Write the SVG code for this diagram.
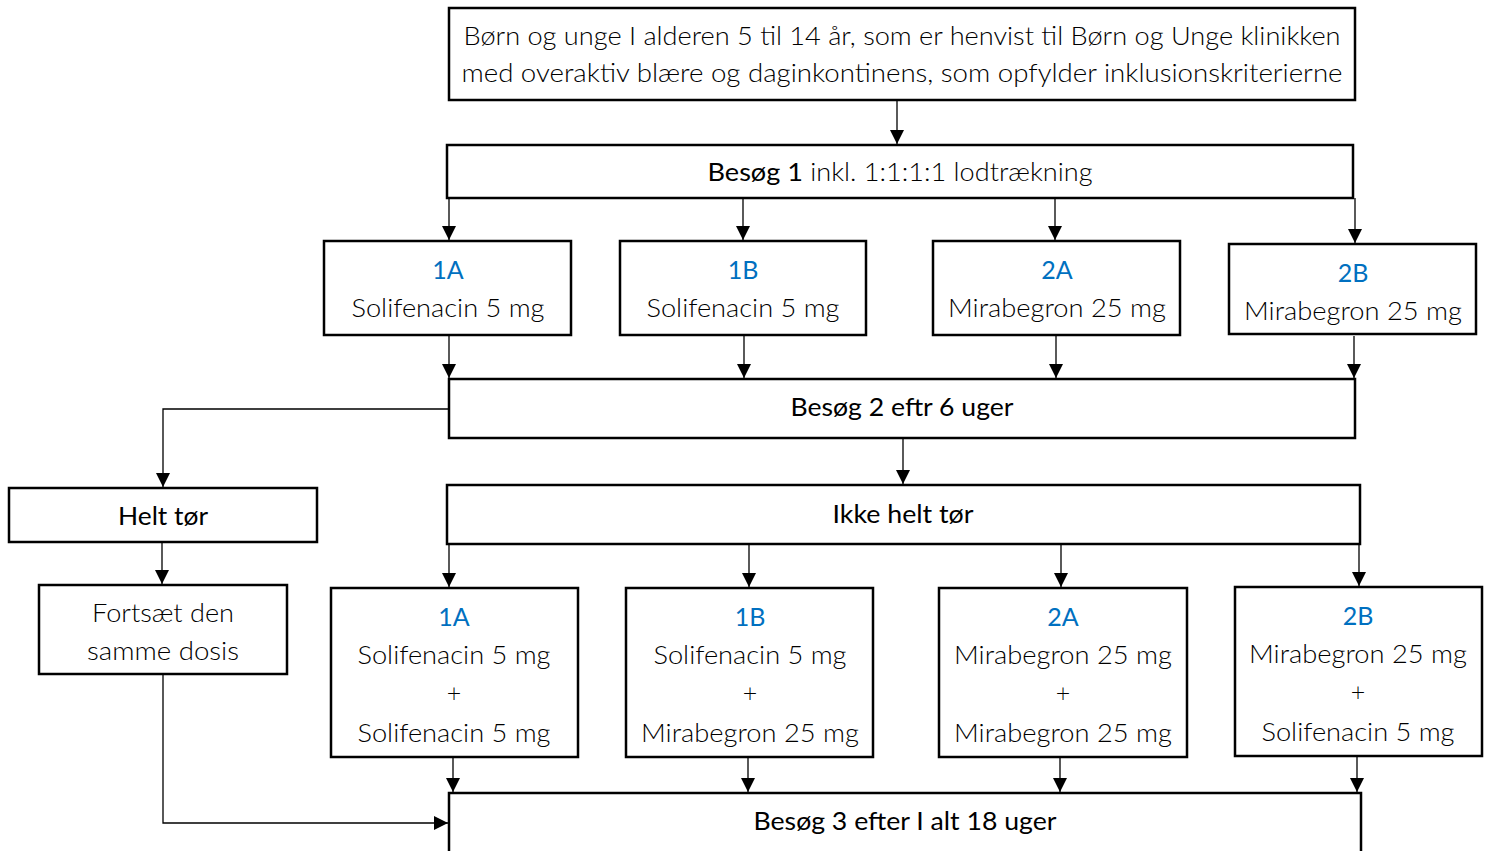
<svg xmlns="http://www.w3.org/2000/svg" width="1488" height="851" viewBox="0 0 1488 851">
<style>
.box{fill:#fff;stroke:#000;stroke-width:2.5}
.c{fill:none;stroke:#000;stroke-width:1.3}
text{font-family:Lato,"Open Sans","Liberation Sans",sans-serif;font-size:25px;font-weight:300;fill:#000;text-anchor:middle}
.b{font-weight:400}
.blue{fill:#0070C0;font-weight:400}
</style>
<defs>
<marker id="a" viewBox="0 0 10 10" refX="10" refY="5" markerWidth="14" markerHeight="14" markerUnits="userSpaceOnUse" orient="auto">
<path d="M0,0 L10,5 L0,10 z" fill="#000"/>
</marker>
</defs>
<rect width="1488" height="851" fill="#fff"/>
<g id="connectors">
<line class="c" x1="897" y1="100" x2="897" y2="144" marker-end="url(#a)"/>
<line class="c" x1="449" y1="198" x2="449" y2="240" marker-end="url(#a)"/>
<line class="c" x1="743" y1="198" x2="743" y2="240" marker-end="url(#a)"/>
<line class="c" x1="1055" y1="198" x2="1055" y2="240" marker-end="url(#a)"/>
<line class="c" x1="1355" y1="198" x2="1355" y2="243" marker-end="url(#a)"/>
<line class="c" x1="449" y1="336" x2="449" y2="378" marker-end="url(#a)"/>
<line class="c" x1="744" y1="336" x2="744" y2="378" marker-end="url(#a)"/>
<line class="c" x1="1056" y1="336" x2="1056" y2="378" marker-end="url(#a)"/>
<line class="c" x1="1354" y1="336" x2="1354" y2="378" marker-end="url(#a)"/>
<polyline class="c" points="449,409 163,409 163,487" marker-end="url(#a)"/>
<line class="c" x1="903" y1="438" x2="903" y2="484" marker-end="url(#a)"/>
<line class="c" x1="162" y1="542" x2="162" y2="584" marker-end="url(#a)"/>
<polyline class="c" points="163,674 163,823 448,823" marker-end="url(#a)"/>
<line class="c" x1="449" y1="544" x2="449" y2="587" marker-end="url(#a)"/>
<line class="c" x1="749" y1="544" x2="749" y2="587" marker-end="url(#a)"/>
<line class="c" x1="1061" y1="544" x2="1061" y2="587" marker-end="url(#a)"/>
<line class="c" x1="1359" y1="544" x2="1359" y2="586" marker-end="url(#a)"/>
<line class="c" x1="453" y1="749" x2="453" y2="792" marker-end="url(#a)"/>
<line class="c" x1="748" y1="749" x2="748" y2="792" marker-end="url(#a)"/>
<line class="c" x1="1060" y1="749" x2="1060" y2="792" marker-end="url(#a)"/>
<line class="c" x1="1357" y1="749" x2="1357" y2="792" marker-end="url(#a)"/>
</g>
<g id="top">
<rect class="box" x="449" y="8" width="906" height="92"/>
<text x="902" y="45" textLength="877" lengthAdjust="spacingAndGlyphs">Børn og unge I alderen 5 til 14 år, som er henvist til Børn og Unge klinikken</text>
<text x="902" y="82" textLength="881" lengthAdjust="spacingAndGlyphs">med overaktiv blære og daginkontinens, som opfylder inklusionskriterierne</text>
</g>
<g id="besog1">
<rect class="box" x="447" y="145" width="906" height="53"/>
<text x="900" y="181" textLength="385" lengthAdjust="spacingAndGlyphs"><tspan class="b">Besøg 1</tspan> inkl. 1:1:1:1 lodtrækning</text>
</g>
<g id="r1-1A">
<rect class="box" x="324" y="241" width="247" height="94"/>
<text class="blue" x="448" y="279">1A</text>
<text x="448" y="317" textLength="193" lengthAdjust="spacingAndGlyphs">Solifenacin 5 mg</text>
</g>
<g id="r1-1B">
<rect class="box" x="620" y="241" width="246" height="94"/>
<text class="blue" x="743" y="279">1B</text>
<text x="743" y="317" textLength="193" lengthAdjust="spacingAndGlyphs">Solifenacin 5 mg</text>
</g>
<g id="r1-2A">
<rect class="box" x="933" y="241" width="247" height="94"/>
<text class="blue" x="1057" y="279">2A</text>
<text x="1057" y="317" textLength="218" lengthAdjust="spacingAndGlyphs">Mirabegron 25 mg</text>
</g>
<g id="r1-2B">
<rect class="box" x="1229" y="244" width="247" height="90"/>
<text class="blue" x="1353" y="282">2B</text>
<text x="1353" y="320" textLength="218" lengthAdjust="spacingAndGlyphs">Mirabegron 25 mg</text>
</g>
<g id="besog2">
<rect class="box" x="449" y="379" width="906" height="59"/>
<text class="b" x="902" y="416" textLength="223" lengthAdjust="spacingAndGlyphs">Besøg 2 eftr 6 uger</text>
</g>
<g id="helt">
<rect class="box" x="9" y="488" width="308" height="54"/>
<text class="b" x="163" y="525" textLength="90" lengthAdjust="spacingAndGlyphs">Helt tør</text>
</g>
<g id="fortsaet">
<rect class="box" x="39" y="585" width="248" height="89"/>
<text x="163" y="622" textLength="142" lengthAdjust="spacingAndGlyphs">Fortsæt den</text>
<text x="163" y="660" textLength="152" lengthAdjust="spacingAndGlyphs">samme dosis</text>
</g>
<g id="ikke">
<rect class="box" x="447" y="485" width="913" height="59"/>
<text class="b" x="903" y="523" textLength="141" lengthAdjust="spacingAndGlyphs">Ikke helt tør</text>
</g>
<g id="r2-1A">
<rect class="box" x="331" y="588" width="247" height="169"/>
<text class="blue" x="454" y="626">1A</text>
<text x="454" y="664" textLength="193" lengthAdjust="spacingAndGlyphs">Solifenacin 5 mg</text>
<text x="454" y="702">+</text>
<text x="454" y="742" textLength="193" lengthAdjust="spacingAndGlyphs">Solifenacin 5 mg</text>
</g>
<g id="r2-1B">
<rect class="box" x="626" y="588" width="247" height="169"/>
<text class="blue" x="750" y="626">1B</text>
<text x="750" y="664" textLength="193" lengthAdjust="spacingAndGlyphs">Solifenacin 5 mg</text>
<text x="750" y="702">+</text>
<text x="750" y="742" textLength="218" lengthAdjust="spacingAndGlyphs">Mirabegron 25 mg</text>
</g>
<g id="r2-2A">
<rect class="box" x="939" y="588" width="248" height="169"/>
<text class="blue" x="1063" y="626">2A</text>
<text x="1063" y="664" textLength="218" lengthAdjust="spacingAndGlyphs">Mirabegron 25 mg</text>
<text x="1063" y="702">+</text>
<text x="1063" y="742" textLength="218" lengthAdjust="spacingAndGlyphs">Mirabegron 25 mg</text>
</g>
<g id="r2-2B">
<rect class="box" x="1235" y="587" width="247" height="169"/>
<text class="blue" x="1358" y="625">2B</text>
<text x="1358" y="663" textLength="218" lengthAdjust="spacingAndGlyphs">Mirabegron 25 mg</text>
<text x="1358" y="701">+</text>
<text x="1358" y="741" textLength="193" lengthAdjust="spacingAndGlyphs">Solifenacin 5 mg</text>
</g>
<g id="besog3">
<rect class="box" x="449" y="793" width="912" height="70"/>
<text class="b" x="905" y="830" textLength="303" lengthAdjust="spacingAndGlyphs">Besøg 3 efter I alt 18 uger</text>
</g>
</svg>
